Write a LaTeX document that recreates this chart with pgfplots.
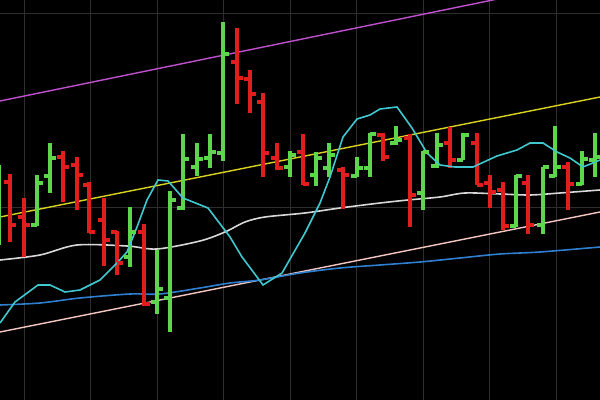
\documentclass[border=0pt]{standalone}
\usepackage{pgfplots}
\usepackage{pgfplotstable}
\pgfplotsset{compat=1.18}

% OHLC ticks: open to the left, close to the right
\pgfdeclareplotmark{tickL}{\pgfpathmoveto{\pgfqpoint{-\pgfplotmarksize}{0pt}}\pgfpathlineto{\pgfqpoint{0pt}{0pt}}\pgfusepathqstroke}
\pgfdeclareplotmark{tickR}{\pgfpathmoveto{\pgfqpoint{0pt}{0pt}}\pgfpathlineto{\pgfqpoint{\pgfplotmarksize}{0pt}}\pgfusepathqstroke}

\definecolor{upc}{HTML}{5CD64A}
\definecolor{dnc}{HTML}{E01E1E}
\definecolor{gridc}{HTML}{2E2E2E}
\definecolor{purp}{HTML}{C050D0}
\definecolor{yel}{HTML}{D8D020}
\definecolor{pinkc}{HTML}{F0C4C0}
\definecolor{bluec}{HTML}{2F7FD0}
\definecolor{whitec}{HTML}{D8D8D8}
\definecolor{cyanc}{HTML}{40C8D0}

% x, open, high, low, close (screen rows, y grows downwards)
\pgfplotstableread{
x o h l c
-1 215 165 245 183
37 225 175 226 183
50 176 143 193 158
130 257 207 267 232
157 302 250 314 289
170 298 191 332 200
183 208 134 210 159
197 167 143 176 159
210 158 134 168 152
223 153 22 161 54
290 167 151 177 155
316 175 152 186 158
329 168 143 177 155
357 176 157 177 168
370 168 133 177 134
396 143 126 145 140
423 193 151 210 152
437 166 133 168 145
463 160 133 160 135
516 226 175 227 176
543 225 167 234 167
555 176 126 177 167
582 184 151 185 159
595 160 133 177 157
}\upbars

\pgfplotstableread{
x o h l c
10 182 174 242 225
24 217 198 257 225
63 157 151 202 167
77 165 157 210 175
89 185 182 233 232
104 220 198 266 240
117 232 231 275 263
144 232 224 306 304
237 62 28 104 78
250 79 70 113 94
263 102 93 177 153
277 158 143 170 168
303 152 134 185 184
343 170 167 209 175
383 135 133 161 157
410 138 134 227 195
450 143 127 168 160
477 143 133 185 185
490 183 175 208 192
503 190 182 230 226
528 183 175 234 225
568 167 162 210 184
}\dnbars

\begin{document}
\begin{tikzpicture}
\begin{axis}[
  name=ax,
  width=300pt, height=200pt, scale only axis,
  xmin=0, xmax=600, ymin=0, ymax=400,
  y dir=reverse,
  axis background/.style={fill=black},
  axis line style={draw=none},
  xtick={24,90.5,157,223.5,290,356.5,423,489.5,556},
  ytick={14,208,402},
  xticklabels={}, yticklabels={},
  tick style={draw=none},
  grid=major,
  major grid style={gridc, line width=0.5pt},
  tk/.style={only marks, mark size=3pt, mark options={line width=1.6pt}},
]
% channel lines
\addplot[purp, line width=0.7pt] coordinates {(0,101) (600,-22)};
\addplot[yel, line width=0.7pt] coordinates {(0,217) (600,97)};
\addplot[pinkc, line width=0.7pt] coordinates {(0,332) (600,212)};

% moving averages
\addplot[bluec, line width=0.8pt, smooth] coordinates {
(0,305) (40,303) (80,298) (130,294) (160,294) (200,288) (230,283) (260,280)
(300,273) (340,268) (380,265) (420,262) (460,258) (500,254) (540,252) (600,247)};
\addplot[whitec, line width=0.8pt, smooth] coordinates {
(0,260) (40,255) (77,245) (127,246) (157,249) (200,241) (225,232) (245,222)
(265,217) (305,213) (340,208) (380,203) (408,200) (440,197) (465,193) (500,194)
(530,195) (560,193) (600,190)};

% bars
\addplot[draw=none, mark=none, error bars/.cd, y dir=plus, y explicit,
  error mark=none, error bar style={draw=upc, line width=1.7pt}]
  table[x=x, y=h, y error expr=\thisrow{l}-\thisrow{h}] {\upbars};
\addplot[tk, mark=tickL, upc] table[x=x, y=o] {\upbars};
\addplot[tk, mark=tickR, upc] table[x=x, y=c] {\upbars};

\addplot[draw=none, mark=none, error bars/.cd, y dir=plus, y explicit,
  error mark=none, error bar style={draw=dnc, line width=1.7pt}]
  table[x=x, y=h, y error expr=\thisrow{l}-\thisrow{h}] {\dnbars};
\addplot[tk, mark=tickL, dnc] table[x=x, y=o] {\dnbars};
\addplot[tk, mark=tickR, dnc] table[x=x, y=c] {\dnbars};

% fast oscillator line
\addplot[cyanc, line width=0.8pt] coordinates {
(0,323) (15,302) (38,285) (50,285) (65,292) (80,290) (100,280) (117,263)
(127,252) (137,227) (147,200) (158,180) (168,181) (183,198) (208,208) (230,237)
(242,257) (263,285) (282,273) (305,233) (320,203) (330,177) (343,137) (357,119)
(370,115) (380,109) (397,107) (412,128) (427,153) (440,165) (455,167) (473,167)
(497,156) (517,150) (530,143) (543,143) (557,152) (570,158) (583,167) (600,160)};
\end{axis}
\pgfresetboundingbox
\useasboundingbox (ax.south west) rectangle (ax.north east);
\end{tikzpicture}
\end{document}
